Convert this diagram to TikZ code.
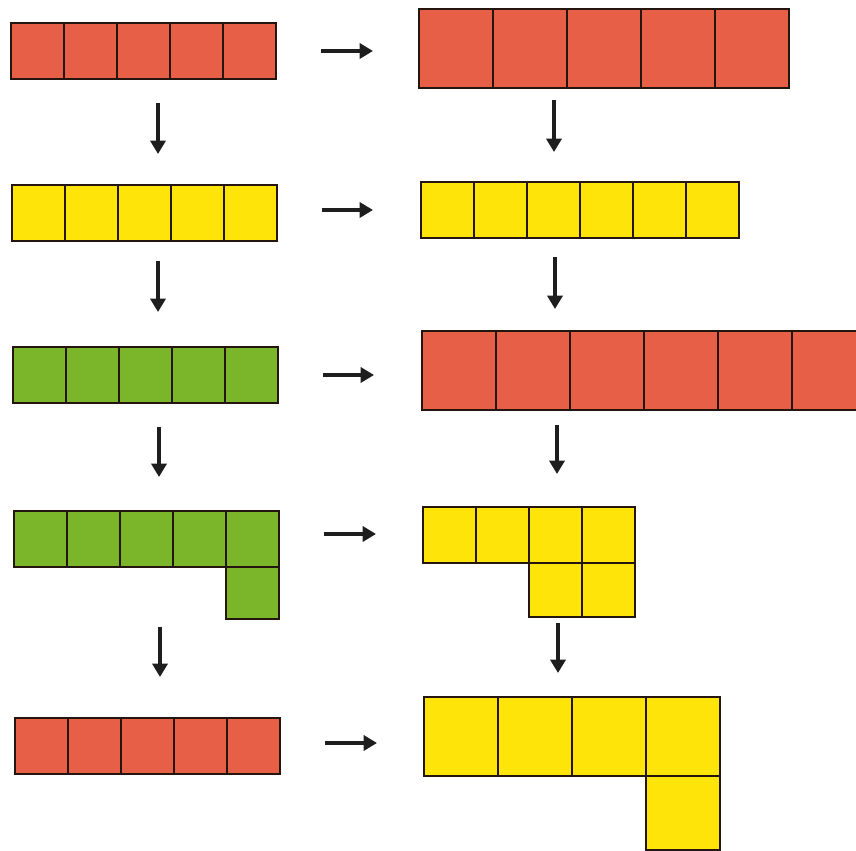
\documentclass[tikz,border=0pt]{standalone}
\usepackage{tikz}
\usetikzlibrary{arrows.meta,positioning}
\definecolor{CellRed}{HTML}{E85F47}
\definecolor{CellYellow}{HTML}{FFE40A}
\definecolor{CellGreen}{HTML}{7AB52A}
\definecolor{CellEdge}{HTML}{24160F}
\definecolor{ArrowInk}{HTML}{1E1E1E}

\begin{document}
\begin{tikzpicture}[
    x=0.03cm,y=-0.03cm,
    cell/.style={draw=CellEdge,line width=0.08cm,outer sep=0pt,inner sep=0pt},
    small/.style={cell,minimum width=1.59cm,minimum height=1.68cm},
    big/.style={cell,minimum width=2.22cm,minimum height=2.37cm},
    arr/.style={-{Triangle[length=0.4cm,width=0.45cm]},line width=0.14cm,ArrowInk}
  ]
  \clip (0,0) rectangle (856,851);

  % left column
  \node[small,fill=CellRed,anchor=north west] (L1-0) at (11,23) {};
  \foreach \i [count=\j from 0] in {1,...,4}
    \node[small,fill=CellRed,right=0pt of L1-\j] (L1-\i) {};

  \node[small,fill=CellYellow,anchor=north west] (L2-0) at (12,185) {};
  \foreach \i [count=\j from 0] in {1,...,4}
    \node[small,fill=CellYellow,right=0pt of L2-\j] (L2-\i) {};

  \node[small,fill=CellGreen,anchor=north west] (L3-0) at (13,347) {};
  \foreach \i [count=\j from 0] in {1,...,4}
    \node[small,fill=CellGreen,right=0pt of L3-\j] (L3-\i) {};

  \node[small,fill=CellGreen,anchor=north west] (L4-0) at (14,511) {};
  \foreach \i [count=\j from 0] in {1,...,4}
    \node[small,fill=CellGreen,right=0pt of L4-\j] (L4-\i) {};
  \node[small,fill=CellGreen,minimum height=1.56cm,below=0pt of L4-4] (L4-5) {};

  \node[small,fill=CellRed,anchor=north west] (L5-0) at (15,718) {};
  \foreach \i [count=\j from 0] in {1,...,4}
    \node[small,fill=CellRed,right=0pt of L5-\j] (L5-\i) {};

  % right column
  \node[big,fill=CellRed,anchor=north west] (R1-0) at (419,9) {};
  \foreach \i [count=\j from 0] in {1,...,4}
    \node[big,fill=CellRed,right=0pt of R1-\j] (R1-\i) {};

  \node[small,fill=CellYellow,anchor=north west] (R2-0) at (421,182) {};
  \foreach \i [count=\j from 0] in {1,...,5}
    \node[small,fill=CellYellow,right=0pt of R2-\j] (R2-\i) {};

  \node[big,fill=CellRed,anchor=north west] (R3-0) at (422,331) {};
  \foreach \i [count=\j from 0] in {1,...,5}
    \node[big,fill=CellRed,right=0pt of R3-\j] (R3-\i) {};

  \node[small,fill=CellYellow,anchor=north west] (R4-0) at (423,507) {};
  \foreach \i [count=\j from 0] in {1,...,3}
    \node[small,fill=CellYellow,right=0pt of R4-\j] (R4-\i) {};
  \node[small,fill=CellYellow,minimum height=1.62cm,below=0pt of R4-2] (R4-4) {};
  \node[small,fill=CellYellow,minimum height=1.62cm,below=0pt of R4-3] (R4-5) {};

  \node[big,fill=CellYellow,anchor=north west] (R5-0) at (424,697) {};
  \foreach \i [count=\j from 0] in {1,...,3}
    \node[big,fill=CellYellow,right=0pt of R5-\j] (R5-\i) {};
  \node[big,fill=CellYellow,minimum height=2.22cm,below=0pt of R5-3] (R5-4) {};

  % arrow ends
  \coordinate (h1a) at (321,51);  \coordinate (h1b) at (373,51);
  \coordinate (h2a) at (322,210); \coordinate (h2b) at (373,210);
  \coordinate (h3a) at (323,375); \coordinate (h3b) at (374,375);
  \coordinate (h4a) at (324,534); \coordinate (h4b) at (376,534);
  \coordinate (h5a) at (325,743); \coordinate (h5b) at (377,743);
  \coordinate (l1a) at (158,103); \coordinate (l1b) at (158,154);
  \coordinate (l2a) at (158,261); \coordinate (l2b) at (158,312);
  \coordinate (l3a) at (159,427); \coordinate (l3b) at (159,477);
  \coordinate (l4a) at (160,627); \coordinate (l4b) at (160,677);
  \coordinate (r1a) at (554,100); \coordinate (r1b) at (554,152);
  \coordinate (r2a) at (555,257); \coordinate (r2b) at (555,309);
  \coordinate (r3a) at (557,425); \coordinate (r3b) at (557,474);
  \coordinate (r4a) at (558,623); \coordinate (r4b) at (558,673);

  \draw[arr] (h1a) -- (h1b);
  \draw[arr] (h2a) -- (h2b);
  \draw[arr] (h3a) -- (h3b);
  \draw[arr] (h4a) -- (h4b);
  \draw[arr] (h5a) -- (h5b);
  \draw[arr] (l1a) -- (l1b);
  \draw[arr] (l2a) -- (l2b);
  \draw[arr] (l3a) -- (l3b);
  \draw[arr] (l4a) -- (l4b);
  \draw[arr] (r1a) -- (r1b);
  \draw[arr] (r2a) -- (r2b);
  \draw[arr] (r3a) -- (r3b);
  \draw[arr] (r4a) -- (r4b);
\end{tikzpicture}
\end{document}
